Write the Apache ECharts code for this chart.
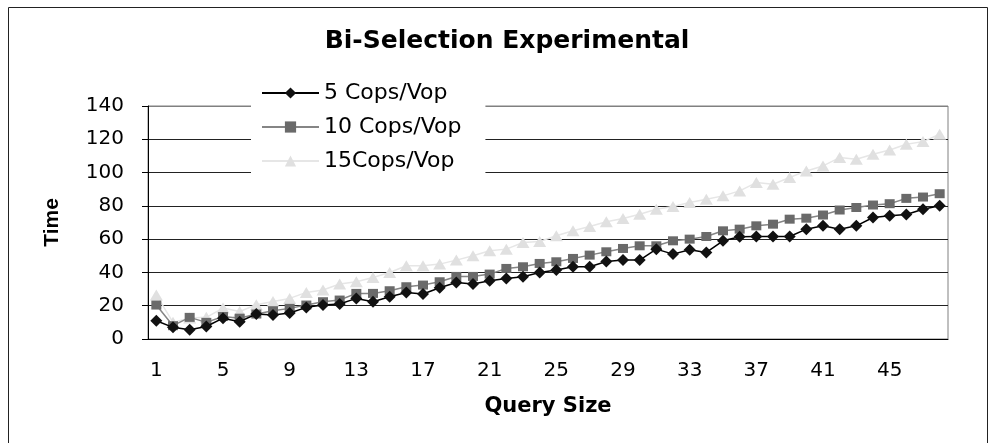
<!DOCTYPE html>
<html>
<head>
<meta charset="utf-8">
<title>Bi-Selection Experimental</title>
<script src="https://cdn.jsdelivr.net/npm/echarts@6/dist/echarts.min.js"></script>
<style>
  html, body { margin: 0; padding: 0; background: #fff; }
  #chart { width: 995px; height: 443px; }
</style>
</head>
<body>
<div id="chart"></div>
<script>
// query sizes 1..48
const querySizes = [];
for (let i = 1; i <= 48; i++) querySizes.push(String(i));

const cops5 = [11, 7, 5.5, 7.5, 12.5, 10.4, 15, 14.4, 15.6, 19, 20.4, 21,
  24.4, 22.4, 25.4, 28, 27, 30.8, 34, 33, 35, 36.4, 37.4, 40,
  41.4, 43.4, 43.4, 46.6, 47.4, 47.4, 54, 51, 53.6, 52, 59, 61.4,
  61.6, 61.6, 61.6, 66, 68, 66, 68, 73, 74, 74.8, 78, 80];

const cops10 = [20.4, 8, 13, 10, 13.5, 12.5, 15, 17, 18.4, 20.4, 22.4, 23.4,
  27.4, 27.4, 29, 31.4, 32.4, 34.4, 37.6, 37.6, 39, 42.4, 43.4, 45.4,
  46.4, 48.4, 50.4, 52.4, 54.4, 56, 56, 59, 60, 61.6, 65, 66,
  68, 69, 72, 72.6, 74.5, 77.5, 79, 80.5, 81.3, 84.5, 85.3, 87.3];

const cops15 = [26.5, 10, 12.6, 13, 18.6, 16.5, 20.6, 22.5, 24.4, 28, 29.4, 33,
  34.4, 37, 40, 44, 44, 45, 47.4, 50, 53, 54, 58, 58.6,
  62, 65, 67.6, 70.4, 72.4, 75, 78, 79.6, 82, 84, 86, 89,
  94, 93, 97, 101, 104, 109, 108, 111, 113.6, 117, 118.6, 123];

const seriesNames = ['5 Cops/Vop', '10 Cops/Vop', '15Cops/Vop'];

const font = 'DejaVu Sans';

const chart = echarts.init(document.getElementById('chart'), null, { renderer: 'canvas' });

chart.setOption({
  animation: false,
  backgroundColor: '#fff',
  graphic: [
    {
      type: 'rect',
      shape: { x: 8.5, y: 7.5, width: 979, height: 460 },
      style: { fill: 'none', stroke: '#222', lineWidth: 1 },
      silent: true
    },
    {
      type: 'text',
      x: 507,
      y: 41,
      style: {
        text: 'Bi-Selection Experimental',
        font: 'bold 25px "DejaVu Sans"',
        fill: '#000',
        textAlign: 'center',
        textVerticalAlign: 'middle'
      }
    }
  ],
  legend: {
    orient: 'vertical',
    left: 251,
    top: 76,
    padding: [5, 24, 9, 10],
    backgroundColor: '#fff',
    itemWidth: 57,
    itemHeight: 14,
    itemGap: 10,
    data: seriesNames,
    textStyle: { fontFamily: font, fontSize: 22, color: '#000', lineHeight: 24 }
  },
  grid: {
    left: 148,
    right: 47,
    top: 106,
    bottom: 104,
    show: true,
    borderColor: '#808080',
    borderWidth: 1
  },
  xAxis: {
    type: 'category',
    data: querySizes,
    boundaryGap: true,
    name: 'Query Size',
    nameLocation: 'middle',
    nameGap: 57,
    nameTextStyle: { fontFamily: font, fontWeight: 'bold', fontSize: 21, color: '#000' },
    axisLine: { lineStyle: { color: '#000', width: 1 } },
    axisTick: { interval: 3, length: 7, lineStyle: { color: '#000' } },
    axisLabel: { interval: 3, margin: 22, fontFamily: font, fontSize: 20, color: '#000' },
    splitLine: { show: false }
  },
  yAxis: {
    type: 'value',
    min: 0,
    max: 140,
    interval: 20,
    name: 'Time',
    nameLocation: 'middle',
    nameGap: 85,
    nameRotate: 90,
    nameTextStyle: { fontFamily: 'Liberation Sans', fontWeight: 'bold', fontSize: 21, color: '#000' },
    axisLine: { show: true, lineStyle: { color: '#000', width: 1 } },
    axisTick: { show: true, length: 6, lineStyle: { color: '#000' } },
    axisLabel: { margin: 24, fontFamily: font, fontSize: 20, color: '#000' },
    splitLine: {
      show: true,
      lineStyle: { color: ['#222', '#222', '#222', '#222', '#222', '#222', '#222', '#808080'], width: 1 }
    }
  },
  series: [
    {
      name: seriesNames[0],
      type: 'line',
      data: cops5,
      symbol: 'diamond',
      symbolSize: [12, 12],
      showAllSymbol: true,
      z: 4,
      itemStyle: { color: '#111' },
      lineStyle: { color: '#000', width: 1.5 }
    },
    {
      name: seriesNames[1],
      type: 'line',
      data: cops10,
      symbol: 'rect',
      symbolSize: [10, 9],
      showAllSymbol: true,
      z: 3,
      itemStyle: { color: '#6a6a6a' },
      lineStyle: { color: '#858585', width: 1.5 }
    },
    {
      name: seriesNames[2],
      type: 'line',
      data: cops15,
      symbol: 'triangle',
      symbolSize: [13, 11],
      showAllSymbol: true,
      z: 2,
      itemStyle: { color: '#e0e0e0' },
      lineStyle: { color: '#e6e6e6', width: 1.5 }
    }
  ]
});
</script>
</body>
</html>
